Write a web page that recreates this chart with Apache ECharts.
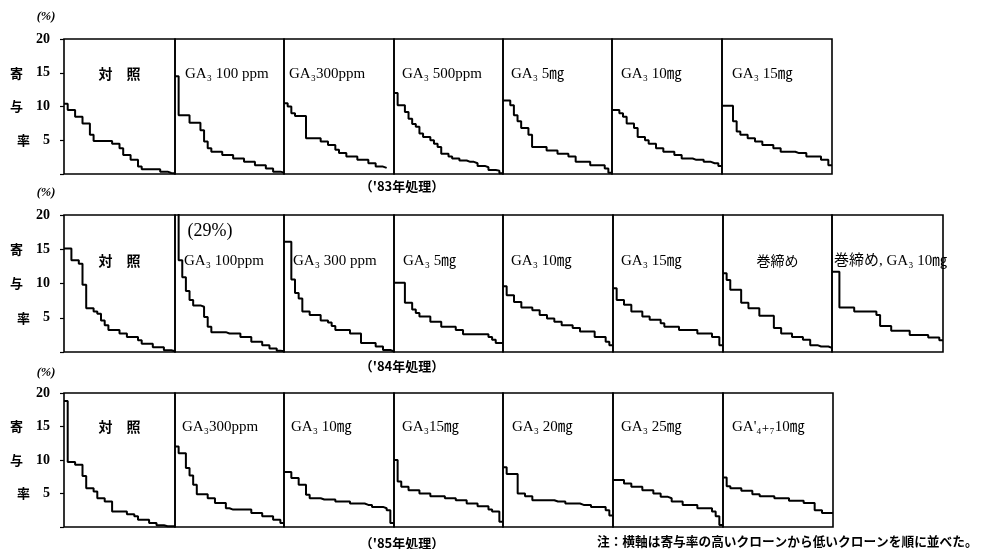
<!DOCTYPE html>
<html><head><meta charset="utf-8">
<script src="https://cdn.jsdelivr.net/npm/echarts/dist/echarts.min.js"></script>
<style>html,body{margin:0;padding:0;background:#fff}#c{width:987px;height:549px}</style>
</head><body><div id="c"></div>
<script>
// ---------- data ----------
const yTicks = [5, 10, 15, 20];
const yAxisChars = ['率', '与', '寄', ''];
const yUnit = '(%)';
const rowCaptions = ["（'83年処理）", "（'84年処理）", "（'85年処理）"];
const note = '注：横軸は寄与率の高いクローンから低いクローンを順に並べた。';
const outOfRangeLabel = '(29%)';

const row1Titles = ['対　照', 'GA₃ 100 ppm', 'GA₃300ppm', 'GA₃ 500ppm', 'GA₃ 5㎎', 'GA₃ 10㎎', 'GA₃ 15㎎'];
const r1_control = [10.4, 9.5, 9.5, 8.5, 8.5, 7.5, 7.5, 5.8, 4.9, 4.9, 4.9, 4.9, 4.9, 4.5, 4.5, 3.8, 2.8, 2.8, 2.1, 2.1, 1.1, 0.7, 0.7, 0.7, 0.7, 0.7, 0.35, 0.35, 0.15, 0.1];
const r1_ga100ppm = [14.5, 8.7, 8.7, 8.7, 7.6, 7.6, 7.6, 6.5, 4.8, 3.8, 3.3, 3.3, 3.3, 2.8, 2.8, 2.8, 2.3, 2.3, 2.3, 1.8, 1.8, 1.8, 1.3, 1.3, 1.3, 0.8, 0.8, 0.35, 0.35, 0.2];
const r1_ga300ppm = [10.5, 10.0, 9.0, 8.6, 8.6, 8.6, 5.3, 5.3, 5.3, 5.3, 4.8, 4.8, 4.3, 4.3, 3.6, 3.1, 3.1, 2.6, 2.6, 2.6, 2.1, 2.1, 2.1, 1.6, 1.6, 1.1, 1.1, 0.9];
const r1_ga500ppm = [12.0, 10.2, 10.2, 9.2, 8.2, 7.4, 7.0, 6.0, 5.5, 5.5, 5.0, 4.5, 4.0, 3.0, 3.0, 2.6, 2.3, 2.3, 2.0, 2.0, 1.8, 1.8, 1.6, 1.2, 1.2, 1.0, 0.6, 0.6, 0.5, 0.1];
const r1_ga5mg = [10.9, 10.9, 10.2, 8.7, 7.8, 6.8, 6.8, 5.8, 4.0, 4.0, 4.0, 4.0, 3.5, 3.5, 3.5, 3.0, 3.0, 3.0, 2.6, 2.6, 1.8, 1.8, 1.8, 1.8, 1.3, 1.3, 1.3, 1.3, 0.8, 0.2];
const r1_ga10mg = [9.5, 9.5, 9.0, 8.5, 7.5, 7.5, 6.8, 5.5, 5.5, 5.0, 4.5, 4.5, 3.8, 3.8, 3.3, 3.3, 3.3, 2.8, 2.8, 2.3, 2.3, 2.3, 2.1, 2.1, 2.1, 1.8, 1.8, 1.6, 1.6, 1.2];
const r1_ga15mg = [10.1, 10.1, 10.1, 7.8, 6.3, 5.8, 5.8, 5.3, 5.3, 4.8, 4.8, 4.3, 4.3, 4.3, 3.8, 3.8, 3.3, 3.3, 3.3, 3.3, 3.1, 3.1, 3.1, 2.6, 2.6, 2.6, 2.6, 2.1, 2.1, 1.3];

const row2Titles = ['対　照', 'GA₃ 100ppm', 'GA₃ 300 ppm', 'GA₃ 5㎎', 'GA₃ 10㎎', 'GA₃ 15㎎', '巻締め', '巻締め, GA₃ 10㎎'];
const r2_control = [15.1, 15.1, 13.4, 13.4, 12.9, 9.8, 6.4, 6.4, 5.9, 5.6, 4.6, 3.9, 3.2, 3.2, 3.2, 2.7, 2.7, 2.2, 2.2, 2.2, 1.7, 1.2, 1.2, 1.2, 0.7, 0.7, 0.7, 0.25, 0.25, 0.1];
const r2_ga100ppm = [29, 13.4, 10.9, 8.9, 7.6, 6.8, 6.8, 6.6, 5.1, 3.7, 2.9, 2.9, 2.9, 2.9, 2.7, 2.7, 2.7, 2.7, 2.2, 2.2, 2.2, 1.5, 1.5, 1.5, 1.0, 1.0, 0.5, 0.5, 0.2, 0.1];
const r2_ga300ppm = [16.1, 16.1, 10.6, 8.6, 7.8, 5.9, 5.9, 5.4, 5.4, 5.4, 4.6, 4.6, 4.3, 3.8, 3.2, 3.2, 3.2, 3.2, 2.7, 2.7, 2.7, 1.3, 1.3, 1.3, 1.3, 0.8, 0.8, 0.3, 0.3, 0.1];
const r2_ga5mg = [10.1, 10.1, 10.1, 7.2, 7.2, 6.2, 5.7, 5.2, 5.2, 5.2, 4.4, 4.4, 4.4, 3.7, 3.7, 3.7, 3.7, 3.2, 3.2, 2.6, 2.6, 2.6, 2.6, 2.6, 2.6, 2.6, 2.2, 1.8, 1.3, 1.3];
const r2_ga10mg = [9.6, 8.3, 8.3, 7.3, 7.3, 6.5, 6.5, 6.5, 6.1, 6.1, 5.4, 5.4, 4.9, 4.9, 4.4, 4.4, 3.9, 3.9, 3.9, 3.5, 3.5, 3.0, 3.0, 3.0, 3.0, 2.2, 2.2, 2.2, 1.5, 1.0];
const r2_ga15mg = [9.3, 7.6, 7.6, 6.9, 6.9, 5.9, 5.9, 5.9, 5.2, 5.2, 4.7, 4.7, 4.7, 4.2, 3.7, 3.7, 3.7, 3.7, 3.2, 3.2, 3.2, 3.2, 3.2, 2.7, 2.7, 2.7, 2.7, 2.2, 2.2, 1.0];
const r2_makishime = [11.5, 10.5, 9.1, 9.1, 9.1, 7.2, 7.2, 6.4, 6.4, 6.4, 5.3, 5.3, 5.3, 5.3, 3.5, 3.5, 2.7, 2.7, 2.7, 2.2, 2.2, 2.2, 1.8, 1.8, 1.0, 1.0, 0.8, 0.8, 0.8, 0.6];
const r2_makishimeGa10mg = [11.7, 11.7, 6.5, 6.5, 6.5, 6.5, 5.9, 5.9, 5.9, 5.9, 5.9, 5.9, 5.4, 3.8, 3.8, 3.8, 3.1, 3.1, 3.1, 3.1, 3.1, 2.5, 2.5, 2.5, 2.5, 2.5, 2.1, 2.1, 2.1, 1.7];

const row3Titles = ['対　照', 'GA₃300ppm', 'GA₃ 10㎎', 'GA₃15㎎', 'GA₃ 20㎎', 'GA₃ 25㎎', "GA'₄₊₇10㎎"];
const r3_control = [18.8, 9.7, 9.7, 9.3, 9.3, 7.6, 5.8, 5.8, 5.3, 4.3, 4.3, 3.8, 3.8, 2.3, 2.3, 2.3, 2.3, 1.9, 1.9, 1.6, 1.1, 1.1, 1.1, 0.6, 0.6, 0.25, 0.25, 0.1, 0.1, 0.1];
const r3_ga300ppm = [12.0, 11.0, 11.0, 8.8, 7.7, 6.3, 4.9, 4.9, 4.9, 4.3, 4.3, 3.6, 3.6, 3.6, 2.8, 2.6, 2.6, 2.6, 2.6, 2.6, 2.6, 2.1, 2.1, 2.1, 1.6, 1.6, 1.6, 1.1, 1.1, 0.6];
const r3_ga10mg = [8.2, 8.2, 7.3, 7.3, 6.3, 6.3, 4.8, 4.3, 4.3, 4.3, 4.1, 4.1, 4.1, 4.1, 3.8, 3.8, 3.8, 3.8, 3.5, 3.5, 3.5, 3.5, 3.3, 3.3, 3.0, 3.0, 3.0, 2.8, 2.5, 0.6];
const r3_ga15mg = [10.0, 6.8, 6.0, 6.0, 5.5, 5.5, 5.5, 5.0, 5.0, 5.0, 4.6, 4.6, 4.6, 4.6, 4.3, 4.3, 4.3, 4.0, 4.0, 4.0, 3.5, 3.5, 3.5, 3.1, 3.1, 3.1, 2.6, 2.3, 2.3, 0.8];
const r3_ga20mg = [8.9, 7.9, 7.9, 7.9, 5.0, 5.0, 4.6, 4.6, 4.0, 4.0, 4.0, 4.0, 4.0, 4.0, 3.8, 3.8, 3.8, 3.5, 3.5, 3.5, 3.5, 3.3, 3.3, 3.3, 3.0, 3.0, 3.0, 3.0, 2.5, 1.7];
const r3_ga25mg = [7.0, 7.0, 7.0, 6.5, 6.5, 6.0, 6.0, 6.0, 5.5, 5.5, 5.5, 5.0, 5.0, 4.5, 4.5, 4.3, 3.8, 3.8, 3.8, 3.3, 3.3, 3.3, 3.3, 2.8, 2.8, 2.8, 2.8, 2.3, 1.6, 0.3];
const r3_ga47_10mg = [7.4, 6.1, 5.8, 5.8, 5.8, 5.4, 5.4, 5.4, 4.9, 4.9, 4.6, 4.6, 4.6, 4.6, 4.3, 4.3, 4.3, 4.3, 3.9, 3.9, 3.9, 3.9, 3.6, 3.6, 3.6, 2.5, 2.5, 2.1, 2.1, 2.1];

const rowTitles = [row1Titles, row2Titles, row3Titles];
const rowSeries = [
  [r1_control, r1_ga100ppm, r1_ga300ppm, r1_ga500ppm, r1_ga5mg, r1_ga10mg, r1_ga15mg],
  [r2_control, r2_ga100ppm, r2_ga300ppm, r2_ga5mg, r2_ga10mg, r2_ga15mg, r2_makishime, r2_makishimeGa10mg],
  [r3_control, r3_ga300ppm, r3_ga10mg, r3_ga15mg, r3_ga20mg, r3_ga25mg, r3_ga47_10mg]
];
const clonesPerPanel = 30;

// ---------- layout (pixels) ----------
const rowLayout = [
  { top: 39, bottom: 174, edges: [64, 175, 284, 394, 503, 612, 722, 832], titleY: 74, unitY: 17, captionY: 186,
    titleX: [null, 185, 289, 402, 511, 621, 732] },
  { top: 215, bottom: 352, edges: [64, 175, 284, 394, 503, 613, 723, 832, 943], titleY: 261, unitY: 193, captionY: 366,
    titleX: [null, 184, 293, 403, 511, 621, null, 834] },
  { top: 393, bottom: 527, edges: [64, 175, 284, 394, 503, 613, 723, 833], titleY: 427, unitY: 373, captionY: 543,
    titleX: [null, 182, 291, 402, 512, 621, 732] }
];

const SERIF = '"Liberation Serif","DejaVu Serif","Noto Sans CJK JP",serif';
const JP = '"Noto Sans CJK JP","Noto Sans CJK SC",sans-serif';

const grids = [], xAxes = [], yAxes = [], series = [], graphics = [];
rowSeries.forEach((panels, r) => {
  const L = rowLayout[r];
  panels.forEach((vals, p) => {
    const g = grids.length;
    const left = L.edges[p], right = L.edges[p + 1];
    grids.push({ left: left, top: L.top, width: right - left, height: L.bottom - L.top,
      show: true, borderColor: '#000', borderWidth: 1.6, backgroundColor: 'transparent' });
    xAxes.push({ gridIndex: g, type: 'value', min: 0, max: clonesPerPanel, show: false });
    const first = p === 0;
    yAxes.push({
      gridIndex: g, type: 'value', min: 0, max: 20, interval: 5, show: first,
      axisLine: { show: false }, splitLine: { show: false },
      axisTick: { show: first, length: 4, lineStyle: { color: '#000', width: 1.2 } },
      axisLabel: {
        show: first, margin: 14, align: 'right', color: '#000',
        formatter: v => {
          const i = yTicks.indexOf(v);
          if (i < 0) return '';
          return '{c|' + (yAxisChars[i] || ' ') + '}{n|' + v + '}';
        },
        rich: {
          c: { width: 26, align: 'left', fontFamily: JP, fontSize: 13, fontWeight: 'bold', color: '#000' },
          n: { fontFamily: SERIF, fontSize: 14, fontWeight: 'bold', color: '#000' }
        }
      }
    });
    const data = vals.map((v, i) => [i, v]);
    data.push([vals.length, vals[vals.length - 1]]);
    series.push({ type: 'line', xAxisIndex: g, yAxisIndex: g, step: 'end', symbol: 'none',
      data: data, clip: true, lineStyle: { color: '#000', width: 2 }, silent: true, animation: false });

    // panel title
    const title = rowTitles[r][p];
    const isControl = /対/.test(title);
    const isJP = /[巻]/.test(title) && !/GA/.test(title);
    const tx = L.titleX[p];
    graphics.push({ type: 'text', x: tx === null ? (left + right) / 2 : tx, y: L.titleY,
      style: { text: title, fill: '#000', align: tx === null ? 'center' : 'left', verticalAlign: 'middle',
        font: isControl ? 'bold 14px ' + JP : (isJP ? '14px ' + JP : '15px ' + SERIF) } });
  });
  graphics.push({ type: 'text', x: 46, y: L.unitY,
    style: { text: yUnit, fill: '#000', align: 'center', verticalAlign: 'middle', font: 'italic bold 12.5px ' + SERIF } });
  graphics.push({ type: 'text', x: 402, y: L.captionY,
    style: { text: rowCaptions[r], fill: '#000', align: 'center', verticalAlign: 'middle', font: 'bold 13px ' + JP } });
});
graphics.push({ type: 'text', x: 210, y: 231,
  style: { text: outOfRangeLabel, fill: '#000', align: 'center', verticalAlign: 'middle', font: '18px ' + SERIF } });
graphics.push({ type: 'text', x: 597, y: 541,
  style: { text: note, fill: '#000', align: 'left', verticalAlign: 'middle', font: 'bold 12.7px ' + JP } });

const chart = echarts.init(document.getElementById('c'), null, { renderer: 'canvas' });
chart.setOption({
  animation: false,
  backgroundColor: '#fff',
  grid: grids, xAxis: xAxes, yAxis: yAxes, series: series,
  graphic: graphics
});
</script></body></html>
